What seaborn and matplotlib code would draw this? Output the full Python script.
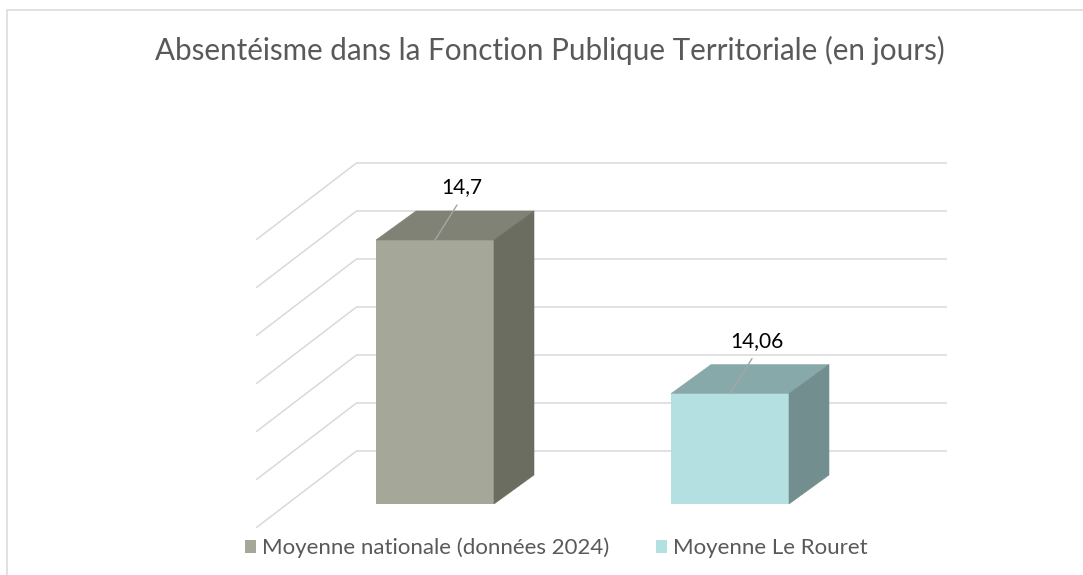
import matplotlib
matplotlib.use("Agg")
import matplotlib.pyplot as plt
import seaborn as sns
import pandas as pd
from matplotlib.patches import Polygon, Patch, Rectangle
from matplotlib.lines import Line2D
from matplotlib.transforms import ScaledTranslation

# data
series = ["Moyenne nationale (données 2024)", "Moyenne Le Rouret"]
values = [14.7, 14.06]
y_ticks = [13.6, 13.8, 14.0, 14.2, 14.4, 14.6, 14.8]
title = "Absentéisme dans la Fonction Publique Territoriale (en jours)"

front_colors = ["#a5a898", "#b4e0e1"]
top_colors = ["#7f8274", "#87a9aa"]
side_colors = ["#6a6d60", "#728e8e"]
grid_color = "#d9d9d9"
text_color = "#595959"

W, H = 1083, 575

sns.set_theme(style="white")
plt.rcParams["font.family"] = ["Lato", "DejaVu Sans"]

fig = plt.figure(figsize=(W / 100, H / 100), dpi=100)
# axes = front plane of the bars
ax = fig.add_axes([287.5 / W, 71 / H, 590 / W, 288 / H])

df = pd.DataFrame({"serie": series, "jours": values})
sns.barplot(data=df, x="serie", y="jours", hue="serie", palette=front_colors,
            width=0.4, saturation=1, legend=False, ax=ax, zorder=2,
            linewidth=0, edgecolor="none")
ax.set_xlim(-0.5, 1.5)
ax.set_ylim(y_ticks[0], y_ticks[-1])
ax.axis("off")

to_fig = fig.transFigure.inverted()


def fig_pts(pts):
    return to_fig.transform(pts)


# back wall gridlines, shifted back in depth
wall = ax.get_yaxis_transform() + ScaledTranslation(0.69, 0.53, fig.dpi_scale_trans)
ax.hlines(y_ticks, 0, 1, transform=wall, colors=grid_color, lw=1.1,
          zorder=0, clip_on=False)

# side wall lines
for v in y_ticks:
    p = ax.get_yaxis_transform().transform((0, v))
    pts = fig_pts([p + (69, 53), p + (-31, -23.5)])
    ax.add_line(Line2D(pts[:, 0], pts[:, 1], transform=fig.transFigure,
                       color=grid_color, lw=1.1, zorder=0, clip_on=False))

# 3d faces of the bars
depth = (40, 29)
for patch, tc, sc, v in zip(ax.patches[:len(values)], top_colors, side_colors, values):
    x0 = patch.get_x()
    x1 = x0 + patch.get_width()
    fl = ax.transData.transform((x0, v))
    fr = ax.transData.transform((x1, v))
    br = ax.transData.transform((x1, y_ticks[0]))
    top = Polygon(fig_pts([fl, fr, fr + depth, fl + depth]), closed=True,
                  transform=fig.transFigure, facecolor=tc, edgecolor=tc,
                  lw=0.4, zorder=3, clip_on=False)
    side = Polygon(fig_pts([fr, fr + depth, br + depth, br]), closed=True,
                   transform=fig.transFigure, facecolor=sc, edgecolor=sc,
                   lw=0.4, zorder=3, clip_on=False)
    ax.add_patch(top)
    ax.add_patch(side)

    label = f"{v:g}".replace(".", ",")
    ax.annotate(label, xy=((x0 + x1) / 2, v), xytext=(27, 53),
                textcoords="offset pixels", ha="center", va="center",
                fontsize=15, color="black", annotation_clip=False, zorder=5,
                arrowprops=dict(arrowstyle="-", color="#a6a6a6", lw=1,
                                relpos=(0.5, 0), shrinkA=4, shrinkB=0))

fig.text(550 / W, 1 - 60 / H, title, ha="center", va="baseline",
         fontsize=21.3, color=text_color)

handles = [Patch(facecolor=c, edgecolor="none") for c in front_colors]
fig.legend(handles, series, loc="center", bbox_to_anchor=(556 / W, 1 - 548 / H),
           ncol=2, frameon=False, fontsize=16, labelcolor=text_color,
           handlelength=0.5, handleheight=0.5, handletextpad=0.27,
           columnspacing=2.1)

# chart frame (only top and left edges are visible in the crop)
fig.add_artist(Rectangle((7 / W, -0.1), 1.2, (H - 9.5) / H + 0.1,
                         transform=fig.transFigure, fill=False,
                         edgecolor=grid_color, lw=1.1))

fig.savefig("out.png", dpi=100)
